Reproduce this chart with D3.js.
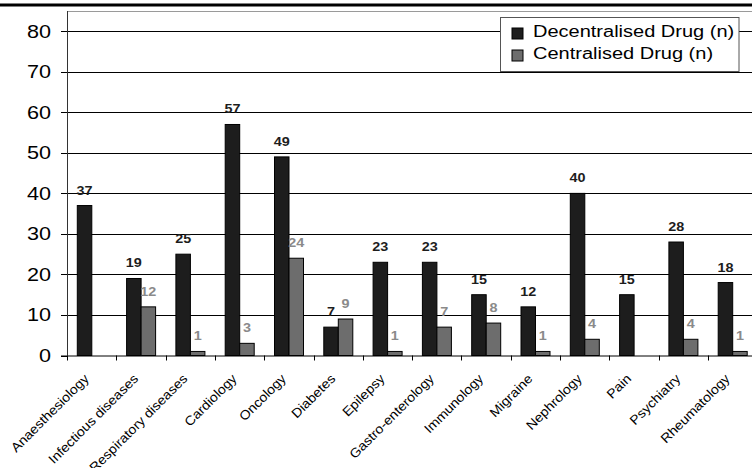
<!DOCTYPE html>
<html>
<head>
<meta charset="utf-8">
<script src="https://cdn.jsdelivr.net/npm/d3@7"></script>
<style>
  html, body { margin: 0; padding: 0; background: #fff; }
  svg { display: block; }
  text { font-family: "Liberation Sans", Arial, sans-serif; }
</style>
</head>
<body>
<svg id="chart" width="752" height="468"></svg>
<script>
// Therapeutic areas and number of drugs per authorisation route
const categories = ["Anaesthesiology", "Infectious diseases", "Respiratory diseases", "Cardiology",
  "Oncology", "Diabetes", "Epilepsy", "Gastro-enterology", "Immunology", "Migraine",
  "Nephrology", "Pain", "Psychiatry", "Rheumatology"];
const decentralised = [37, 19, 25, 57, 49, 7, 23, 23, 15, 12, 40, 15, 28, 18];
const centralised = [null, 12, 1, 3, 24, 9, 1, 7, 8, 1, 4, null, 4, 1];
const seriesNames = ["Decentralised Drug (n)", "Centralised Drug (n)"];
const yTicks = [0, 10, 20, 30, 40, 50, 60, 70, 80];

const svg = d3.select("#chart");
const W = 752, H = 468;
const plot = { left: 67, top: 11, right: 757.2, bottom: 355.5 };
const fills = ["#1d1d1d", "#6d6d6d"];
const labelColours = ["#1d1d1d", "#8a8a8a"];
const stretch = 1.2;

// heavy rule across the top of the figure
svg.append("rect").attr("x", 0).attr("y", 3.5).attr("width", W).attr("height", 3).attr("fill", "#000");

const x = d3.scaleBand().domain(categories).range([plot.left, plot.right]).padding(0);
const xs = d3.scaleBand().domain([0, 1]).range([10.3, 39.3]).padding(0);
const y = d3.scaleLinear().domain([0, 85]).range([plot.bottom, plot.top]);

// plot frame
svg.append("line").attr("x1", plot.left).attr("x2", W).attr("y1", plot.top + 0.5).attr("y2", plot.top + 0.5)
  .attr("stroke", "#9a9a9a").attr("stroke-width", 1);

// horizontal gridlines
svg.append("g").selectAll("line").data(yTicks.filter(d => d > 0)).join("line")
  .attr("x1", plot.left).attr("x2", W)
  .attr("y1", d => Math.round(y(d)) + 0.5).attr("y2", d => Math.round(y(d)) + 0.5)
  .attr("stroke", "#000").attr("stroke-width", 1);

// y axis
const yAxis = svg.append("g").attr("transform", `translate(${plot.left},0)`)
  .call(d3.axisLeft(y).tickValues(yTicks).tickSize(6).tickSizeOuter(0).tickFormat(""));
yAxis.select(".domain").attr("stroke", "#333").attr("d", `M0.5,${plot.top}V${plot.bottom}`);
yAxis.selectAll(".tick line").attr("stroke", "#000");
yAxis.selectAll(".tick").attr("transform", d => `translate(0,${Math.round(y(d)) + 0.5})`);

svg.append("g").selectAll("text").data(yTicks).join("text")
  .attr("transform", d => `translate(51,${y(d)}) scale(${stretch},1)`)
  .attr("text-anchor", "end").attr("dy", "0.36em")
  .attr("font-size", 18).attr("fill", "#000")
  .text(d => d);

// bars
const groups = svg.append("g").selectAll("g").data(categories).join("g")
  .attr("transform", d => `translate(${x(d)},0)`);

groups.each(function (cat, i) {
  const g = d3.select(this);
  [decentralised[i], centralised[i]].forEach((v, s) => {
    if (v === null) return;
    g.append("rect")
      .attr("x", xs(s)).attr("width", xs.bandwidth())
      .attr("y", y(v)).attr("height", y(0) - y(v))
      .attr("fill", fills[s]).attr("stroke", "#000").attr("stroke-width", 1);
    g.append("text")
      .attr("transform", `translate(${xs(s) + xs.bandwidth() / 2},${y(v) - 11}) scale(${stretch},1)`)
      .attr("text-anchor", "middle")
      .attr("font-size", 12).attr("font-weight", "bold")
      .attr("fill", labelColours[s])
      .text(v);
  });
});

// x axis baseline and tick marks
const xAxis = svg.append("g").attr("transform", `translate(0,${plot.bottom})`);
xAxis.append("line").attr("x1", plot.left - 6).attr("x2", W).attr("y1", 0.5).attr("y2", 0.5)
  .attr("stroke", "#000").attr("stroke-width", 1);
xAxis.selectAll("line.tk").data(categories.map(c => x(c)).concat([plot.right])).join("line")
  .attr("class", "tk")
  .attr("x1", d => Math.round(d) + 0.5).attr("x2", d => Math.round(d) + 0.5)
  .attr("y1", 0).attr("y2", 5).attr("stroke", "#000");

// rotated category labels
svg.append("g").selectAll("text").data(categories).join("text")
  .attr("transform", d => `translate(${x(d) + x.bandwidth() / 2 - 2},${plot.bottom + 24}) rotate(-45) scale(1.09,1)`)
  .attr("text-anchor", "end")
  .attr("font-size", 13).attr("fill", "#000")
  .text(d => d);

// legend
const legend = svg.append("g").attr("transform", "translate(500.5,17.5)");
legend.append("rect").attr("width", 238.5).attr("height", 54)
  .attr("fill", "#fff").attr("stroke", "#555").attr("stroke-width", 1);
seriesNames.forEach((name, s) => {
  legend.append("rect").attr("x", 11.5).attr("y", 10.5 + s * 22).attr("width", 11).attr("height", 11)
    .attr("fill", fills[s]).attr("stroke", "#000").attr("stroke-width", 1);
  legend.append("text")
    .attr("transform", `translate(32.5,${19.5 + s * 22}) scale(1.25,1)`)
    .attr("font-size", 16).attr("fill", "#000")
    .text(name);
});
</script>
</body>
</html>
